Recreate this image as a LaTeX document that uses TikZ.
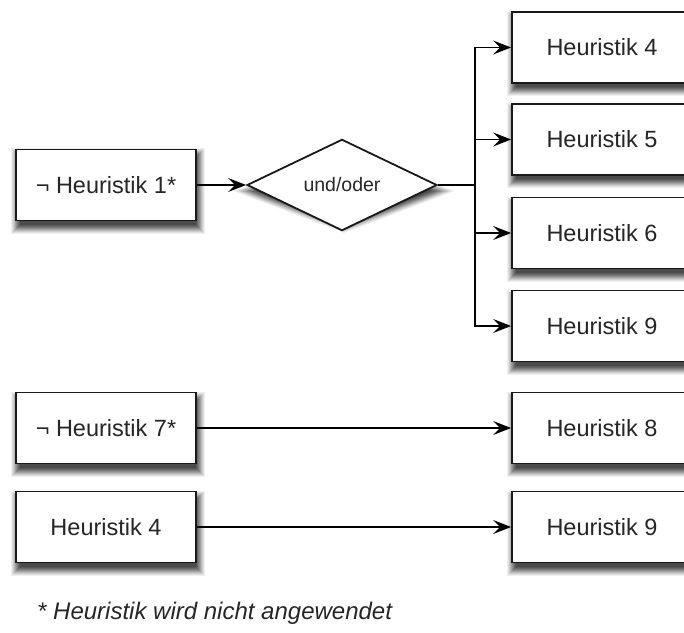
\documentclass[tikz,border=0pt]{standalone}
\usepackage{fontspec}
\setmainfont{Liberation Sans}
\usetikzlibrary{shapes.geometric,arrows.meta}

\definecolor{shadowgrey}{RGB}{60,60,60}

\tikzset{
  hbox/.style={draw=black!90,line width=1.8bp,fill=white,rectangle,
    minimum width=180bp,minimum height=71bp,inner sep=0pt,
    text=black!85,font=\fontsize{23.5bp}{28bp}\selectfont},
  decision/.style={draw=black!90,line width=1.8bp,fill=white,diamond,
    minimum width=190bp,minimum height=72bp,inner sep=0pt,
    text=black!85,font=\fontsize{19.5bp}{23bp}\selectfont},
  link/.style={draw=black,line width=1.4bp,-{Stealth[length=18bp,width=14bp,inset=7bp]}},
  plain/.style={draw=black,line width=1.4bp}
}

% soft drop shadow of a 180x71 box centred at (#1,#2): nested grey layers, lightest outside
\newcommand\boxshade[2]{%
  \foreach \k/\g in {0/8,1/16,2/26,3/36,4/47,5/58,6/68,7/77,8/85,9/92}{%
    \fill[shadowgrey!\g!white] (#1-90-5+\k,#2-35.5-1+\k) rectangle (#1+90+9-\k,#2+35.5+13-\k);}}
% the same for the 190x72 diamond centred at (#1,#2)
\newcommand\diamondshade[2]{%
  \foreach \k/\g in {0/8,1/16,2/26,3/36,4/47,5/58,6/68,7/77,8/85,9/92}{%
    \pgfmathsetmacro\e{6-\k}%
    \fill[shadowgrey!\g!white] (#1+2,#2-36+6-\e) -- (#1+95+2+2.6*\e,#2+6)
      -- (#1+2,#2+36+6+\e) -- (#1-95+2-2.6*\e,#2+6) -- cycle;}}

\begin{document}
\begin{tikzpicture}[x=1bp,y=-1bp]
  \useasboundingbox (0,0) rectangle (684,633);

  % shadows
  \boxshade{106}{185}
  \boxshade{106}{428}
  \boxshade{106}{527}
  \boxshade{602}{47.5}
  \boxshade{602}{139.5}
  \boxshade{602}{233}
  \boxshade{602}{326}
  \boxshade{602}{428}
  \boxshade{602}{527}
  \diamondshade{342}{185}

  % left column
  \node[hbox] (n1) at (106,185) {¬ Heuristik 1*};
  \node[hbox] (n7) at (106,428) {¬ Heuristik 7*};
  \node[hbox] (l4) at (106,527) {Heuristik 4};

  % decision
  \node[decision] (und) at (342,185) {und/oder};

  % right column
  \node[hbox] (r4) at (602,47.5) {Heuristik 4};
  \node[hbox] (r5) at (602,139.5) {Heuristik 5};
  \node[hbox] (r6) at (602,233) {Heuristik 6};
  \node[hbox] (r9) at (602,326) {Heuristik 9};
  \node[hbox] (r8) at (602,428) {Heuristik 8};
  \node[hbox] (r9b) at (602,527) {Heuristik 9};

  % branching point
  \coordinate (fork) at (475,185);

  % connectors
  \draw[link] (n1.east) -- (und.west);
  \draw[plain] (und.east) -- (fork);
  \draw[link] (fork) |- (r4.west);
  \draw[link] (fork) |- (r5.west);
  \draw[link] (fork) |- (r6.west);
  \draw[link] (fork) |- (r9.west);
  \draw[link] (n7.east) -- (r8.west);
  \draw[link] (l4.east) -- (r9b.west);

  % footnote
  \node[anchor=base west,inner sep=0pt,text=black!85,
    font=\fontsize{24bp}{28bp}\selectfont\itshape] (note) at (37,619)
    {* Heuristik wird nicht angewendet};
\end{tikzpicture}
\end{document}
